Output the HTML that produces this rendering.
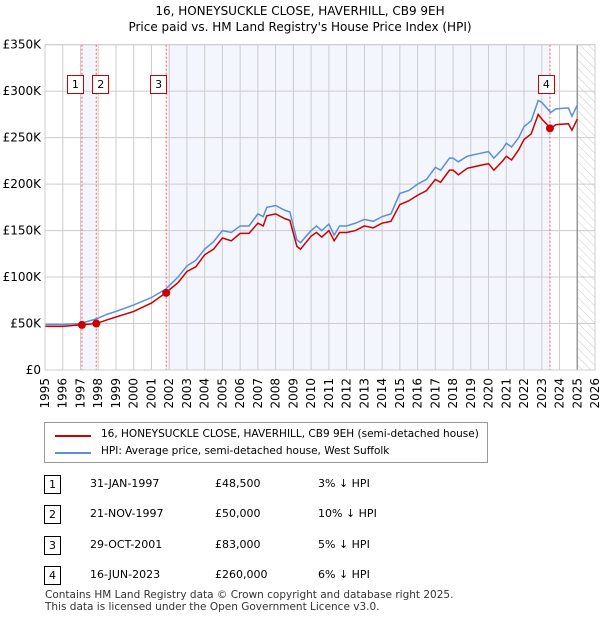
<!DOCTYPE html>
<html><head><meta charset="utf-8"><style>
body{margin:0;background:#fff;font-family:"DejaVu Sans","Liberation Sans",sans-serif;}
.wrap{position:relative;width:600px;height:620px;overflow:hidden}
.t{position:absolute;font-size:11px;color:#000;white-space:nowrap}
.box{position:absolute;border:1px solid #c00;width:15px;height:17px;font-size:11px;text-align:center;line-height:17px;background:#fff}
</style></head><body><div class="wrap">
<div class="t" style="left:0;width:600px;text-align:center;top:3px;font-size:12px;line-height:16px">16, HONEYSUCKLE CLOSE, HAVERHILL, CB9 9EH<br>Price paid vs. HM Land Registry's House Price Index (HPI)</div>
<svg id="svg" width="600" height="420" style="position:absolute;left:0;top:0">
<defs><pattern id="hatch" width="6" height="6" patternUnits="userSpaceOnUse" patternTransform="rotate(-45)"><line x1="0" y1="0" x2="0" y2="6" stroke="#ccc" stroke-width="1"/></pattern></defs>
<g id="g"></g></svg>
<div style="position:absolute;left:44px;top:422px;width:442px;height:39px;border:1px solid #999">
<div style="position:absolute;left:10px;top:12px;width:36px;border-top:2px solid #c00"></div>
<div class="t" style="left:56px;top:5px;font-size:10.5px">16, HONEYSUCKLE CLOSE, HAVERHILL, CB9 9EH (semi-detached house)</div>
<div style="position:absolute;left:10px;top:29px;width:36px;border-top:2px solid #5b8fd6"></div>
<div class="t" style="left:56px;top:22px;font-size:10.5px">HPI: Average price, semi-detached house, West Suffolk</div>
</div>
<div id="tbl"></div>
<div class="t" style="left:45px;top:589px;font-size:10.5px;line-height:12px;color:#333">Contains HM Land Registry data © Crown copyright and database right 2025.<br>This data is licensed under the Open Government Licence v3.0.</div>
</div>
<script>
const hpiYears=[1995,1996,1997,1997.9,1998.5,1999,2000,2001,2001.8,2002.5,2003,2003.5,2004,2004.5,2005,2005.5,2006,2006.5,2007,2007.3,2007.5,2008,2008.5,2008.8,2009.2,2009.4,2010,2010.3,2010.6,2011,2011.3,2011.6,2012,2012.5,2013,2013.5,2014,2014.5,2015,2015.5,2016,2016.5,2017,2017.3,2017.8,2018,2018.3,2018.8,2019.5,2020,2020.3,2020.8,2021,2021.3,2021.7,2022,2022.4,2022.8,2023,2023.5,2023.8,2024.5,2024.7,2025];
const hpiValues=[49,49,50,55,60,63,70,78,87,100,112,118,130,138,150,148,155,155,168,165,175,177,172,170,140,137,150,155,150,157,145,155,155,158,162,160,165,168,190,193,200,205,218,215,228,228,224,230,233,235,228,238,244,240,250,262,268,290,288,277,281,282,273,285];
const ppValues=[47,47,48.5,50,54,57,63,72,83,94,106,111,124,130,142,139,147,147,158,155,166,168,163,161,133,130,144,148,143,150,139,148,148,150,155,153,158,160,178,182,188,193,205,202,215,215,210,217,220,222,215,225,230,226,237,248,254,275,270,260,264,265,258,270];
const saleYears=[1997.08,1997.89,2001.83,2023.46];
const salePrices=[48.5,50,83,260];
const saleDates=["31-JAN-1997","21-NOV-1997","29-OCT-2001","16-JUN-2023"];
const salePriceLabels=["£48,500","£50,000","£83,000","£260,000"];
const saleHpi=["3% ↓ HPI","10% ↓ HPI","5% ↓ HPI","6% ↓ HPI"];
const yTicks=[0,50,100,150,200,250,300,350];
const yLabels=["£0","£50K","£100K","£150K","£200K","£250K","£300K","£350K"];
const X0=45,X1=595,Y0=370,Y1=44.7;
const x=y=>X0+(y-1995)/31*(X1-X0);
const yv=v=>Y0-v/350*(Y0-Y1);
const g=document.getElementById('g');const NS='http://www.w3.org/2000/svg';
const FF='DejaVu Sans, Liberation Sans, sans-serif';
function el(t,a,p){const e=document.createElementNS(NS,t);for(const k in a)e.setAttribute(k,a[k]);(p||g).appendChild(e);return e;}
const r1=el('rect',{x:x(saleYears[0]),y:Y1,width:x(saleYears[1])-x(saleYears[0]),height:Y0-Y1,fill:'#f3f6fd'});

const r2=el('rect',{x:x(saleYears[2]),y:Y1,width:x(saleYears[3])-x(saleYears[2]),height:Y0-Y1,fill:'#f3f6fd'});

const hz=el('rect',{x:x(2025),y:Y1,width:X1-x(2025),height:Y0-Y1,fill:'url(#hatch)'});

for(let yr=1995;yr<=2026;yr++){const l=el('line',{x1:x(yr),x2:x(yr),y1:Y1,y2:Y0,stroke:'#ccc'});
const t=el('text',{x:0,y:0,transform:`translate(${x(yr)+4},${Y0+8}) rotate(-90)`,'text-anchor':'end','font-size':12,'font-family':FF});t.textContent=yr;}
yTicks.forEach((v,i)=>{const l=el('line',{x1:X0,x2:X1,y1:yv(v),y2:yv(v),stroke:'#ccc'});
const t=el('text',{x:X0-4,y:yv(v)+4,'text-anchor':'end','font-size':12,'font-family':FF});t.textContent=yLabels[i];});
const bl=el('line',{x1:x(2025),x2:x(2025),y1:Y1,y2:Y0,stroke:'#999','stroke-width':1.5});
saleYears.forEach((s,i)=>{const l=el('line',{x1:x(s),x2:x(s),y1:Y1,y2:Y0,stroke:'#f55','stroke-dasharray':'2,2'});});
const hp=el('polyline',{points:hpiYears.map((y,i)=>x(y)+','+yv(hpiValues[i])).join(' '),fill:'none',stroke:'#5b8fd6','stroke-width':1.5});

const pp=el('polyline',{points:hpiYears.map((y,i)=>x(y)+','+yv(ppValues[i])).join(' '),fill:'none',stroke:'#c00','stroke-width':1.5});

saleYears.forEach((s,i)=>{const c=el('circle',{cx:x(s),cy:yv(salePrices[i]),r:4,fill:'#c00'});});
const o=el('rect',{x:X0,y:Y1,width:X1-X0,height:Y0-Y1,fill:'none',stroke:'#ccc'});
const wrap=document.querySelector('.wrap');
const bx=[x(saleYears[0])-8,x(saleYears[1])+3,x(saleYears[2])-9,x(saleYears[3])-5];
bx.forEach((b,i)=>{const d=document.createElement('div');d.className='box';d.style.left=(b-7)+'px';d.style.top='75px';d.textContent=i+1;


wrap.appendChild(d);});
const rowsY=[475,505,536,566];
rowsY.forEach((ry,i)=>{const d=document.createElement('div');d.className='box';d.style.left='44px';d.style.top=ry+'px';d.style.borderColor='#000';d.textContent=i+1;


wrap.appendChild(d);
[[saleDates[i],90],[salePriceLabels[i],215],[saleHpi[i],318]].forEach(([txt,lx])=>{const t=document.createElement('div');t.className='t';t.style.left=lx+'px';t.style.top=(ry+2)+'px';t.style.fontSize='11px';t.textContent=txt;


wrap.appendChild(t);});});
</script></body></html>
